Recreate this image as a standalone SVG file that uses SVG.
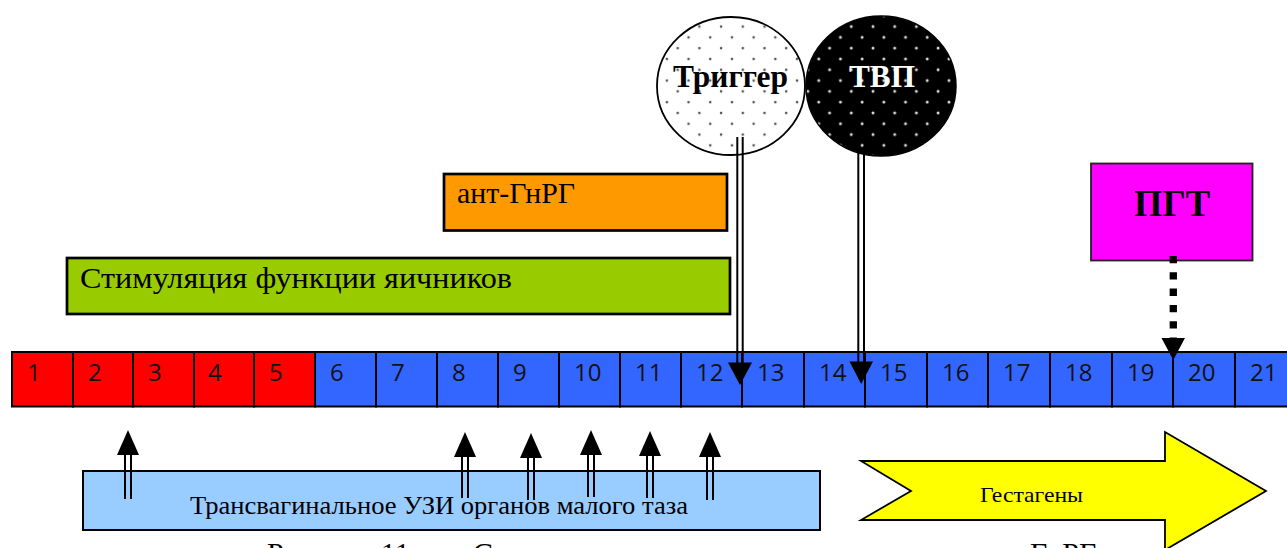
<svg xmlns="http://www.w3.org/2000/svg" width="1287" height="548" viewBox="0 0 1287 548">
<style>
.cellR{fill:#FF0000;stroke:#000;stroke-width:2}
.cellB{fill:#3366FF;stroke:#000;stroke-width:2}
.num{font-family:"Open Sans","Liberation Sans",sans-serif;font-size:24px;fill:#111}
.serif{font-family:"Liberation Serif","Times New Roman",serif;fill:#000}
.dl{stroke:#000;stroke-width:2;fill:none}
.head{fill:#000}
</style>
<defs>
<pattern id="dotsDark" patternUnits="userSpaceOnUse" width="21.7" height="21.6">
<rect width="21.7" height="21.6" fill="#fff"/>
<circle cx="5" cy="5" r="1.3" fill="#555"/>
<circle cx="15.85" cy="15.8" r="1.3" fill="#555"/>
</pattern>
<pattern id="dotsLight" patternUnits="userSpaceOnUse" width="21.7" height="21.6">
<rect width="21.7" height="21.6" fill="#000"/>
<circle cx="5" cy="5" r="1.5" fill="#ddd"/>
<circle cx="15.85" cy="15.8" r="1.5" fill="#ddd"/>
</pattern>
</defs>
<rect width="1287" height="548" fill="#fff"/>

<g id="stimulation">
<rect x="67" y="258" width="663" height="56" fill="#99CC00" stroke="#000" stroke-width="2.7"/>
<text class="serif" x="80" y="288" font-size="30" textLength="432" lengthAdjust="spacingAndGlyphs">Стимуляция функции яичников</text>
</g>

<g id="antgnrg">
<rect x="444" y="174" width="283" height="56.5" fill="#FF9900" stroke="#000" stroke-width="2.7"/>
<text class="serif" x="457" y="203" font-size="29" textLength="118" lengthAdjust="spacingAndGlyphs">ант-ГнРГ</text>
</g>

<g id="trigger">
<ellipse cx="731" cy="86" rx="74" ry="69" fill="url(#dotsDark)" stroke="#000" stroke-width="1.8"/>
<text class="serif" x="673" y="87" font-size="31" font-weight="bold" textLength="115" lengthAdjust="spacingAndGlyphs">Триггер</text>
</g>

<g id="tvp">
<ellipse cx="881" cy="86" rx="75" ry="70" fill="url(#dotsLight)" stroke="#000" stroke-width="1.5"/>
<text class="serif" x="849" y="87" font-size="31" font-weight="bold" style="fill:#fff" textLength="66" lengthAdjust="spacingAndGlyphs">ТВП</text>
</g>

<g id="pgt">
<rect x="1091" y="163.5" width="161.5" height="97" fill="#FF00FF" stroke="#222" stroke-width="1.8"/>
<text class="serif" x="1134" y="216" font-size="38" font-weight="bold" textLength="76" lengthAdjust="spacingAndGlyphs">ПГТ</text>
</g>

<g id="timeline">
<rect class="cellR" x="12" y="352" width="61" height="54.5"/>
<rect class="cellR" x="73" y="352" width="60" height="54.5"/>
<rect class="cellR" x="133" y="352" width="61" height="54.5"/>
<rect class="cellR" x="194" y="352" width="60" height="54.5"/>
<rect class="cellR" x="254" y="352" width="61" height="54.5"/>
<rect class="cellB" x="315" y="352" width="61" height="54.5"/>
<rect class="cellB" x="376" y="352" width="61" height="54.5"/>
<rect class="cellB" x="437" y="352" width="61" height="54.5"/>
<rect class="cellB" x="498" y="352" width="61" height="54.5"/>
<rect class="cellB" x="559" y="352" width="61" height="54.5"/>
<rect class="cellB" x="620" y="352" width="61" height="54.5"/>
<rect class="cellB" x="681" y="352" width="61" height="54.5"/>
<rect class="cellB" x="742" y="352" width="62" height="54.5"/>
<rect class="cellB" x="804" y="352" width="61" height="54.5"/>
<rect class="cellB" x="865" y="352" width="62" height="54.5"/>
<rect class="cellB" x="927" y="352" width="61" height="54.5"/>
<rect class="cellB" x="988" y="352" width="62" height="54.5"/>
<rect class="cellB" x="1050" y="352" width="62" height="54.5"/>
<rect class="cellB" x="1112" y="352" width="61" height="54.5"/>
<rect class="cellB" x="1173" y="352" width="62" height="54.5"/>
<rect class="cellB" x="1235" y="352" width="61" height="54.5"/>
<text class="num" x="27" y="381">1</text>
<text class="num" x="88" y="381">2</text>
<text class="num" x="148" y="381">3</text>
<text class="num" x="208" y="381">4</text>
<text class="num" x="269" y="381">5</text>
<text class="num" x="330" y="381">6</text>
<text class="num" x="391" y="381">7</text>
<text class="num" x="452" y="381">8</text>
<text class="num" x="513" y="381">9</text>
<text class="num" x="574" y="381">10</text>
<text class="num" x="635" y="381">11</text>
<text class="num" x="696" y="381">12</text>
<text class="num" x="757" y="381">13</text>
<text class="num" x="819" y="381">14</text>
<text class="num" x="880" y="381">15</text>
<text class="num" x="942" y="381">16</text>
<text class="num" x="1003" y="381">17</text>
<text class="num" x="1065" y="381">18</text>
<text class="num" x="1127" y="381">19</text>
<text class="num" x="1188" y="381">20</text>
<text class="num" x="1250" y="381">21</text>
</g>

<g id="ultrasound">
<rect x="83" y="471" width="737" height="59" fill="#99CCFF" stroke="#000" stroke-width="2"/>
<text class="serif" x="190" y="514" font-size="25" textLength="498" lengthAdjust="spacingAndGlyphs">Трансвагинальное УЗИ органов малого таза</text>
</g>

<g id="gestagens">
<path d="M861,461 L1165,461 L1165,432 L1266,491 L1165,550 L1165,520 L861,520 L911,491 Z" fill="#FFFF00" stroke="#000" stroke-width="1.8" stroke-linejoin="miter"/>
<text class="serif" x="980" y="502" font-size="21" textLength="103" lengthAdjust="spacingAndGlyphs">Гестагены</text>
</g>

<g id="connectors">
<line class="dl" x1="737.3" y1="137" x2="737.3" y2="364"/>
<line class="dl" x1="742.7" y1="137" x2="742.7" y2="364"/>
<polygon class="head" points="728,362.5 752,362.5 740,385"/>
<line class="dl" x1="858.3" y1="151" x2="858.3" y2="363"/>
<line class="dl" x1="864" y1="151" x2="864" y2="363"/>
<polygon class="head" points="849.5,361.5 873,361.5 861.2,384"/>
<line x1="1173.3" y1="256" x2="1173.3" y2="338" stroke="#000" stroke-width="7.3" stroke-dasharray="7.3 9"/>
<polygon class="head" points="1161.5,338 1185,338 1173.3,360"/>
<line class="dl" x1="125" y1="455" x2="125" y2="499"/>
<line class="dl" x1="131" y1="455" x2="131" y2="499"/>
<polygon class="head" points="117,455 139,455 128,430"/>
<line class="dl" x1="462" y1="457" x2="462" y2="498"/>
<line class="dl" x1="468" y1="457" x2="468" y2="498"/>
<polygon class="head" points="454,457 476,457 465,432"/>
<line class="dl" x1="528" y1="458" x2="528" y2="500"/>
<line class="dl" x1="534" y1="458" x2="534" y2="500"/>
<polygon class="head" points="520,458 542,458 531,433"/>
<line class="dl" x1="588" y1="455" x2="588" y2="497"/>
<line class="dl" x1="594" y1="455" x2="594" y2="497"/>
<polygon class="head" points="580,455 602,455 591,430"/>
<line class="dl" x1="647" y1="456" x2="647" y2="498"/>
<line class="dl" x1="653" y1="456" x2="653" y2="498"/>
<polygon class="head" points="639,456 661,456 650,431"/>
<line class="dl" x1="707" y1="457" x2="707" y2="500"/>
<line class="dl" x1="713" y1="457" x2="713" y2="500"/>
<polygon class="head" points="699,457 721,457 710,432"/>
</g>

<g id="caption">
<text class="serif" x="267" y="563" font-size="30">Рисунок 11.</text>
<text class="serif" x="473" y="563" font-size="30">С</text>
<text class="serif" x="1030" y="563" font-size="30">ГнРГ</text>
</g>
</svg>
